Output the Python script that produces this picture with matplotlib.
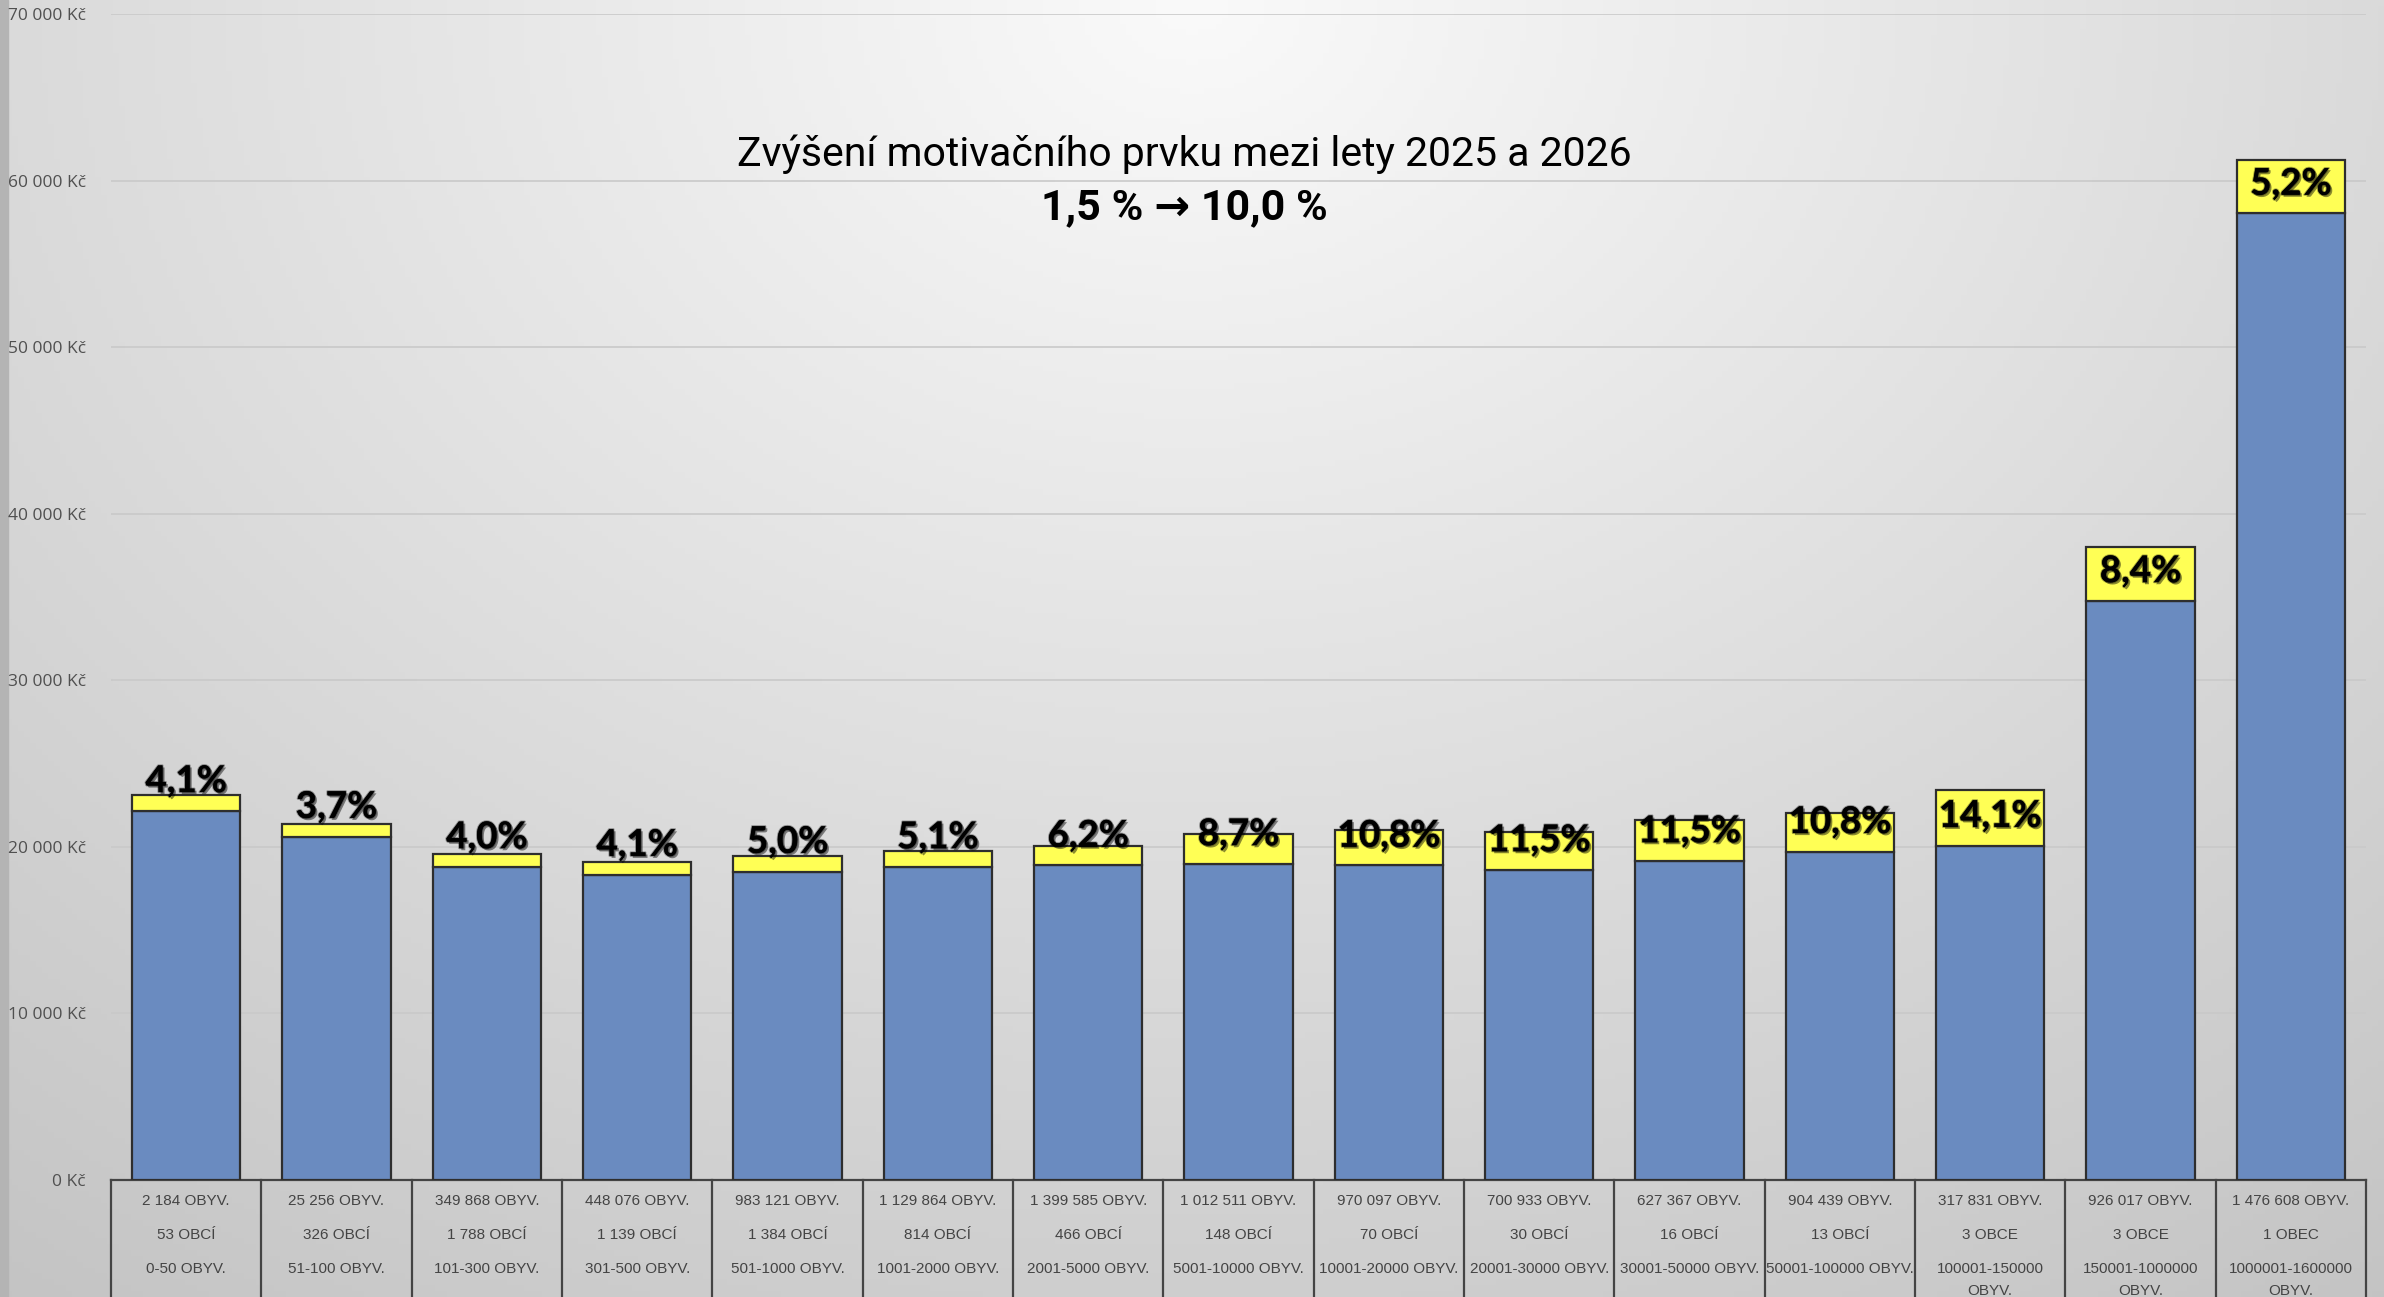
import numpy as np
import matplotlib
matplotlib.use("Agg")
from matplotlib import pyplot as plt
import matplotlib.patheffects as pe

# data
obyv = ["2 184 OBYV.", "25 256 OBYV.", "349 868 OBYV.", "448 076 OBYV.", "983 121 OBYV.",
        "1 129 864 OBYV.", "1 399 585 OBYV.", "1 012 511 OBYV.", "970 097 OBYV.", "700 933 OBYV.",
        "627 367 OBYV.", "904 439 OBYV.", "317 831 OBYV.", "926 017 OBYV.", "1 476 608 OBYV."]
obci = ["53 OBCÍ", "326 OBCÍ", "1 788 OBCÍ", "1 139 OBCÍ", "1 384 OBCÍ", "814 OBCÍ", "466 OBCÍ",
        "148 OBCÍ", "70 OBCÍ", "30 OBCÍ", "16 OBCÍ", "13 OBCÍ", "3 OBCE", "3 OBCE", "1 OBEC"]
rozsah = ["0-50 OBYV.", "51-100 OBYV.", "101-300 OBYV.", "301-500 OBYV.", "501-1000 OBYV.",
          "1001-2000 OBYV.", "2001-5000 OBYV.", "5001-10000 OBYV.", "10001-20000 OBYV.",
          "20001-30000 OBYV.", "30001-50000 OBYV.", "50001-100000 OBYV.",
          "100001-150000\nOBYV.", "150001-1000000\nOBYV.", "1000001-1600000\nOBYV."]
base_2025 = [22170, 20620, 18800, 18340, 18520, 18800, 18890, 18980, 18890, 18620,
             19160, 19710, 20080, 34770, 58030]
increase = [950, 760, 750, 760, 930, 960, 1170, 1800, 2150, 2300, 2450, 2330, 3350, 3250, 3200]
pct_labels = ["4,1%", "3,7%", "4,0%", "4,1%", "5,0%", "5,1%", "6,2%", "8,7%", "10,8%",
              "11,5%", "11,5%", "10,8%", "14,1%", "8,4%", "5,2%"]
yticks = [0, 10000, 20000, 30000, 40000, 50000, 60000, 70000]
ytick_labels = ["0 Kč", "10 000 Kč", "20 000 Kč", "30 000 Kč", "40 000 Kč",
                "50 000 Kč", "60 000 Kč", "70 000 Kč"]

W, H = 2384, 1297
fig = plt.figure(figsize=(W / 100, H / 100), dpi=100)

# slide background: soft radial gradient, light at top centre
bg = fig.add_axes([0, 0, 1, 1], zorder=-10)
gx, gy = np.meshgrid(np.linspace(0, 1, 400), np.linspace(0, 1, 220))
r = np.sqrt(((gx - 0.5) / 0.75) ** 2 + ((gy - 0.0) / 1.1) ** 2)
shade = np.clip(250 - 48 * r, 195, 250) / 255.0
bg.imshow(np.dstack([shade, shade, shade]), aspect="auto", extent=[0, 1, 1, 0])
bg.axvspan(0, 8 / W, color="#b4b4b4")
bg.set_xlim(0, 1)
bg.set_ylim(1, 0)
bg.axis("off")

left, right = 111 / W, 2366 / W
bottom, top = (H - 1180) / H, (H - 14) / H
ax = fig.add_axes([left, bottom, right - left, top - bottom])
ax.patch.set_alpha(0)

x = np.arange(len(base_2025))
ax.bar(x, base_2025, width=0.72, color="#6a8bc0", edgecolor="#2e2e2e", linewidth=1.6, zorder=3)
ax.bar(x, increase, width=0.72, bottom=base_2025, color="#ffff55", edgecolor="#2e2e2e",
       linewidth=1.6, zorder=3)

shadow = [pe.SimplePatchShadow(offset=(1.5, -1.5), shadow_rgbFace="k", alpha=0.45),
          pe.withStroke(linewidth=1.5, foreground=(0, 0, 0, 0.35))]
for xi, b, lab in zip(x, base_2025, pct_labels):
    ax.annotate(lab, (xi, b), xytext=(0, 21), textcoords="offset points",
                ha="center", va="center", fontsize=26.5, fontweight="bold",
                family=["Lato", "DejaVu Sans"], color="black", path_effects=shadow, zorder=5)

ax.set_xlim(-0.5, len(x) - 0.5)
ax.set_ylim(0, 70000)
ax.set_yticks(yticks)
ax.set_yticklabels(ytick_labels, fontsize=12.5, color="#505050", family=["Open Sans", "DejaVu Sans"])
ax.tick_params(axis="y", length=0, pad=18)
ax.set_xticks([])
ax.yaxis.grid(True, color="#c9c9c9", linewidth=1.2, zorder=0)
for s in ["left", "right", "top"]:
    ax.spines[s].set_visible(False)
ax.spines["bottom"].set_color("#444444")
ax.spines["bottom"].set_linewidth(1.6)

# table of categories under the axis
tr = ax.get_xaxis_transform()
for b in np.arange(-0.5, len(x), 1.0):
    ax.plot([b, b], [0, -0.12], transform=tr, color="#444444", linewidth=1.6, clip_on=False)
row_y = [-0.018, -0.047, -0.076]
tfont = dict(fontsize=11, color="#444444", family=["Liberation Sans Narrow", "Liberation Sans"],
             ha="center", transform=tr, clip_on=False)
for xi in x:
    ax.text(xi, row_y[0], obyv[xi], va="center", **tfont)
    ax.text(xi, row_y[1], obci[xi], va="center", **tfont)
    for k, line in enumerate(rozsah[xi].split("\n")):
        ax.text(xi, row_y[2] - 0.019 * k, line, va="center", **tfont)

fig.text(0.4966, 0.881, "Zvýšení motivačního prvku mezi lety 2025 a 2026", ha="center",
         va="center", fontsize=29.5, family=["Roboto", "DejaVu Sans"], color="black")
fig.text(0.4966, 0.840, "1,5 % → 10,0 %", ha="center", va="center", fontsize=31,
         fontweight="bold", family=["Roboto", "DejaVu Sans"], color="black")

fig.savefig("out.png", dpi=100)
